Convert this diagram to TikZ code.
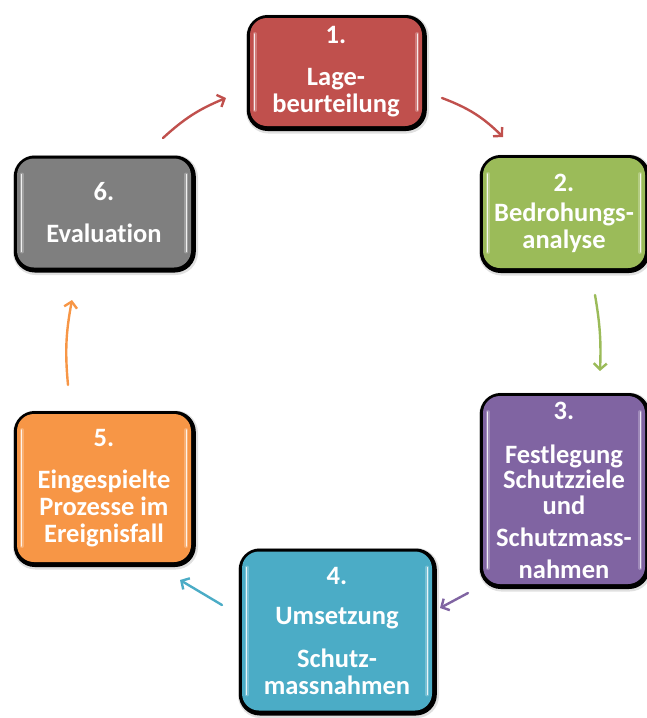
\documentclass[tikz,border=0pt]{standalone}
\usepackage{fontspec}
\setmainfont{Carlito}[Ligatures=NoCommon]
\usetikzlibrary{arrows.meta}

\definecolor{cRed}{HTML}{C0504D}
\definecolor{cGreen}{HTML}{9BBB59}
\definecolor{cPurple}{HTML}{8064A2}
\definecolor{cAqua}{HTML}{4BACC6}
\definecolor{cOrange}{HTML}{F79646}
\definecolor{cGray}{HTML}{7F7F7F}

\tikzset{
  stepbox/.style={
    rectangle, rounded corners=17pt, fill=#1, text=white,
    font=\bfseries\fontsize{26.5}{27}\selectfont, align=center, inner sep=0pt,
    preaction={draw=black, opacity=0.12, line width=11pt,
               transform canvas={xshift=1.5pt, yshift=-2pt}},
    preaction={draw=black, line width=8pt,
               transform canvas={xshift=0.8pt, yshift=-1pt}}
  },
  cyclearrow/.style={draw=#1, line width=2.4pt, line cap=round,
    -{Straight Barb[length=6pt, width=13pt, line width=2.4pt]}}
}

% white glossy strokes along the inner left and right edges of a box
\newcommand{\glossedges}[1]{%
  \foreach \side/\dx in {west/5pt, east/-5pt}{
    \draw[white, line width=3.5pt, opacity=0.25, line cap=round]
      ([xshift=\dx, yshift=-16pt]#1.north \side) -- ([xshift=\dx, yshift=16pt]#1.south \side);
    \draw[white, line width=1pt, opacity=0.85, line cap=round]
      ([xshift=\dx, yshift=-16pt]#1.north \side) -- ([xshift=\dx, yshift=16pt]#1.south \side);
  }%
}

\begin{document}
\begin{tikzpicture}[x=1pt, y=-1pt]
  \useasboundingbox (0,0) rectangle (646,718);

  % process steps
  \node[stepbox=cRed, minimum width=172pt, minimum height=108pt] (s1) at (336,72)
    {1.\\[15pt]Lage-\\beurteilung};
  \node[stepbox=cGreen, minimum width=162pt, minimum height=110pt] (s2) at (564,213)
    {2.\\[3pt]Bedrohungs-\\analyse};
  \node[stepbox=cPurple, minimum width=162pt, minimum height=188pt] (s3) at (564,490)
    {3.\\[17pt]Festlegung\\[-2pt]Schutzziele\\[-1pt]und\\[5pt]Schutzmass-\\[5pt]nahmen};
  \node[stepbox=cAqua, minimum width=190pt, minimum height=159pt] (s4) at (337,631)
    {4.\\[13pt]Umsetzung\\[16pt]Schutz-\\massnahmen};
  \node[stepbox=cOrange, minimum width=174pt, minimum height=148pt] (s5) at (104,488)
    {5.\\[15pt]Eingespielte\\Prozesse im\\Ereignisfall};
  \node[stepbox=cGray, minimum width=174pt, minimum height=109pt] (s6) at (104,213)
    {6.\\[15pt]Evaluation};

  \glossedges{s1}
  \glossedges{s2}
  \glossedges{s3}
  \glossedges{s4}
  \glossedges{s5}
  \glossedges{s6}

  % arrow end points between the steps
  \coordinate (a12s) at (442,98);   \coordinate (a12e) at (503,137);
  \coordinate (a23s) at (595,295);  \coordinate (a23e) at (600,371);
  \coordinate (a34s) at (468,593);  \coordinate (a34e) at (440,608);
  \coordinate (a45s) at (222,605);  \coordinate (a45e) at (180,580);
  \coordinate (a56s) at (68,385);   \coordinate (a56e) at (72,300);
  \coordinate (a61s) at (163,138);  \coordinate (a61e) at (226,98);

  \draw[cyclearrow=cRed]    (a12s) to[bend left=12] (a12e);
  \draw[cyclearrow=cGreen]  (a23s) to[bend left=6]  (a23e);
  \draw[cyclearrow=cPurple] (a34s) to (a34e);
  \draw[cyclearrow=cAqua]   (a45s) to (a45e);
  \draw[cyclearrow=cOrange] (a56s) to[bend left=8]  (a56e);
  \draw[cyclearrow=cRed]    (a61s) to[bend left=10] (a61e);
\end{tikzpicture}
\end{document}
